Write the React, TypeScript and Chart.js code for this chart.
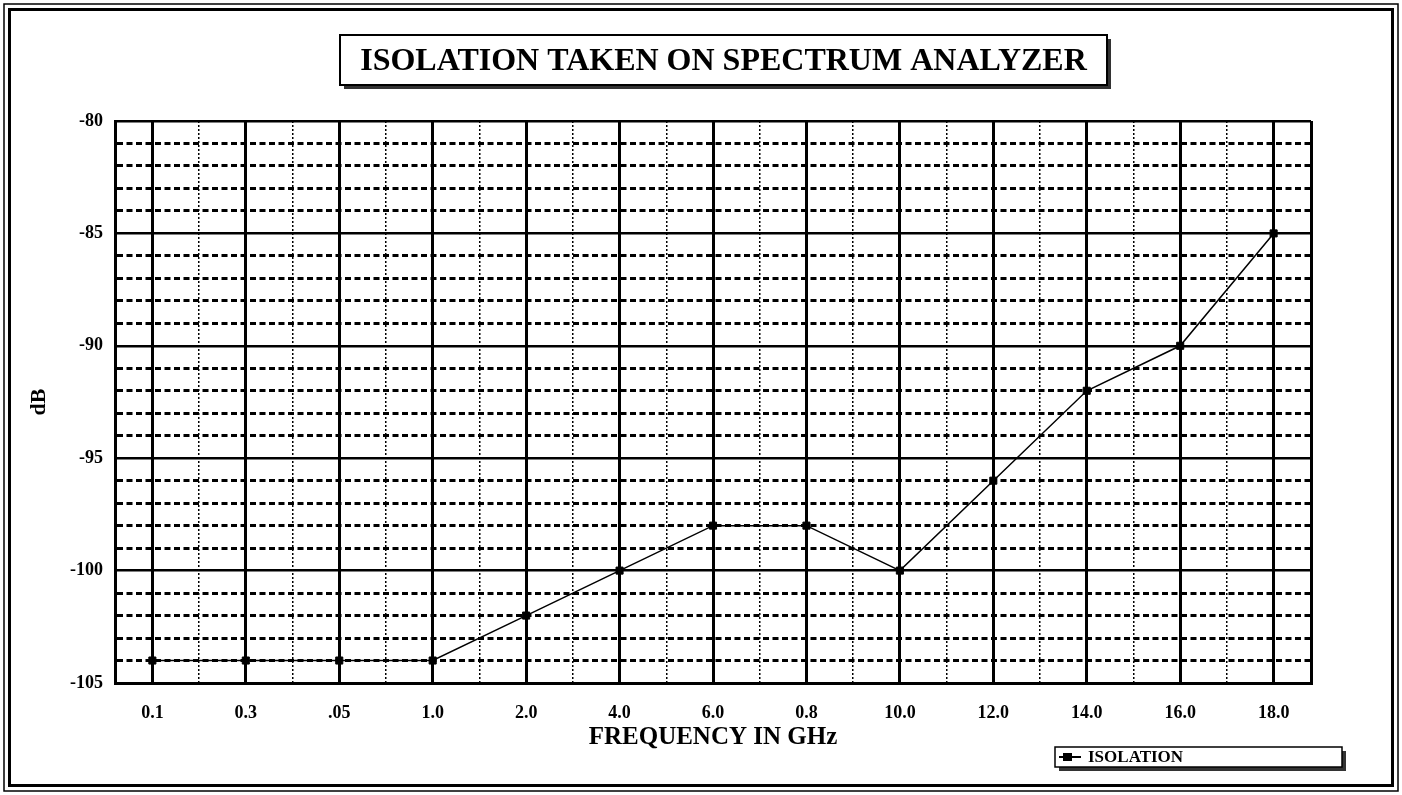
import React, { useEffect, useRef } from 'react';
import { Chart, registerables } from 'chart.js';

Chart.register(...registerables);

// ---- data ----
const categories = ['0.1', '0.3', '.05', '1.0', '2.0', '4.0', '6.0', '0.8', '10.0', '12.0', '14.0', '16.0', '18.0'];
const isolation = [-104, -104, -104, -104, -102, -100, -98, -98, -100, -96, -92, -90, -85];
const yMin = -105;
const yMax = -80;
const yMajorStep = 5;
const titleText = 'ISOLATION TAKEN ON SPECTRUM ANALYZER';
const xTitle = 'FREQUENCY IN GHz';
const yTitle = 'dB';
const seriesName = 'ISOLATION';

const W = 1402;
const H = 795;
const SERIF = '"Liberation Serif", "Times New Roman", serif';

const xEdge = 0.4;
const xMinV = -xEdge;
const xMaxV = categories.length - 1 + xEdge;

const isXMajor = (v: number) => Math.abs(v - Math.round(v)) < 1e-6 || v <= xMinV + 1e-6 || v >= xMaxV - 1e-6;
const isYMajor = (v: number) => Math.abs(v % yMajorStep) < 1e-6;

const framePlugin = {
  id: 'frame',
  beforeDraw(chart: any) {
    const ctx = chart.ctx;
    ctx.save();
    ctx.fillStyle = '#ffffff';
    ctx.fillRect(0, 0, W, H);
    ctx.strokeStyle = '#000';
    ctx.lineWidth = 1.5;
    ctx.strokeRect(4, 4, W - 8, H - 8);
    ctx.lineWidth = 3;
    ctx.strokeRect(9.5, 9.5, W - 19, H - 19);
    ctx.restore();
  },
};

const boxesPlugin = {
  id: 'boxes',
  afterDraw(chart: any) {
    const ctx = chart.ctx;
    ctx.save();
    // Title box
    const tx = 340, ty = 35, tw = 767, th = 50;
    ctx.fillStyle = '#333';
    ctx.fillRect(tx + 4, ty + 4, tw, th);
    ctx.fillStyle = '#fff';
    ctx.fillRect(tx, ty, tw, th);
    ctx.strokeStyle = '#000';
    ctx.lineWidth = 2;
    ctx.strokeRect(tx, ty, tw, th);
    ctx.fillStyle = '#000';
    ctx.font = `bold 32px ${SERIF}`;
    ctx.textAlign = 'center';
    ctx.textBaseline = 'middle';
    ctx.fillText(titleText, tx + tw / 2, ty + th / 2 + 2);

    // Legend box
    const ds = chart.data.datasets[0];
    const lx = 1055, ly = 747, lw = 287, lh = 20;
    ctx.fillStyle = '#333';
    ctx.fillRect(lx + 4, ly + 4, lw, lh);
    ctx.fillStyle = '#fff';
    ctx.fillRect(lx, ly, lw, lh);
    ctx.strokeStyle = '#000';
    ctx.lineWidth = 1.5;
    ctx.strokeRect(lx, ly, lw, lh);
    const my = ly + lh / 2;
    ctx.strokeStyle = ds.borderColor;
    ctx.lineWidth = 2;
    ctx.beginPath();
    ctx.moveTo(lx + 4, my);
    ctx.lineTo(lx + 26, my);
    ctx.stroke();
    ctx.fillStyle = ds.pointBackgroundColor;
    ctx.fillRect(lx + 8, my - 4, 9, 8);
    ctx.fillStyle = '#000';
    ctx.font = `bold 17px ${SERIF}`;
    ctx.textAlign = 'left';
    ctx.textBaseline = 'middle';
    ctx.fillText(seriesName, lx + 33, my + 1);
    ctx.restore();
  },
};

export default function App() {
  const canvasRef = useRef<HTMLCanvasElement | null>(null);

  useEffect(() => {
    if (!canvasRef.current) return;
    const data = isolation.map((v, i) => ({ x: i, y: v }));
    const chart = new Chart(canvasRef.current, {
      type: 'line',
      data: {
        datasets: [
          {
            label: seriesName,
            data,
            borderColor: '#000',
            borderWidth: 1.5,
            pointStyle: 'rect',
            pointRadius: 5,
            pointBackgroundColor: '#000',
            pointBorderColor: '#000',
            pointBorderWidth: 1,
            tension: 0,
            fill: false,
          },
        ],
      },
      options: {
        responsive: false,
        animation: false,
        events: [],
        layout: { padding: { top: 121, left: 0, right: W - 1311, bottom: 0 } },
        plugins: {
          legend: { display: false },
          title: { display: false },
          tooltip: { enabled: false },
        },
        scales: {
          x: {
            type: 'linear',
            min: xMinV,
            max: xMaxV,
            afterFit: (scale: any) => {
              scale.height = H - 683;
            },
            afterBuildTicks: (scale: any) => {
              const ticks: any[] = [{ value: xMinV }];
              for (let i = 0; i < categories.length; i++) {
                if (i > 0) ticks.push({ value: i - 0.5 });
                ticks.push({ value: i });
              }
              ticks.push({ value: xMaxV });
              scale.ticks = ticks;
            },
            ticks: {
              autoSkip: false,
              maxRotation: 0,
              padding: 20,
              color: '#000',
              font: { family: SERIF, size: 18, weight: 'bold' },
              callback: (value: any) => {
                const v = Number(value);
                if (Math.abs(v - Math.round(v)) < 1e-6) {
                  const i = Math.round(v);
                  return categories[i] ?? '';
                }
                return '';
              },
            },
            grid: {
              drawTicks: false,
              color: '#000',
              lineWidth: (ctx: any) => (ctx.tick && !isXMajor(ctx.tick.value) ? 1.5 : 3),
            },
            border: {
              display: true,
              color: '#000',
              width: 3,
              dash: (ctx: any) => (ctx.tick && !isXMajor(ctx.tick.value) ? [2, 2] : []),
            },
            title: {
              display: true,
              text: xTitle,
              color: '#000',
              font: { family: SERIF, size: 25, weight: 'bold' },
              padding: { top: 0, bottom: 42 },
            },
          },
          y: {
            type: 'linear',
            min: yMin,
            max: yMax,
            afterFit: (scale: any) => {
              scale.width = 115;
            },
            ticks: {
              stepSize: 1,
              autoSkip: false,
              padding: 12,
              color: '#000',
              font: { family: SERIF, size: 18, weight: 'bold' },
              callback: (value: any) => (isYMajor(Number(value)) ? String(value) : ''),
            },
            grid: {
              drawTicks: false,
              color: '#000',
              lineWidth: (ctx: any) => (ctx.tick && !isYMajor(ctx.tick.value) ? 3 : 2.5),
            },
            border: {
              display: true,
              color: '#000',
              width: 3,
              dash: (ctx: any) => (ctx.tick && !isYMajor(ctx.tick.value) ? [6, 3.5] : []),
            },
            title: {
              display: true,
              text: yTitle,
              color: '#000',
              font: { family: SERIF, size: 22, weight: 'bold' },
              padding: { top: 26, bottom: 0 },
            },
          },
        },
      },
      plugins: [framePlugin, boxesPlugin],
    } as any);
    return () => chart.destroy();
  }, []);

  return (
    <div style={{ position: 'absolute', left: 0, top: 0, width: W, height: H, background: '#fff' }}>
      <canvas ref={canvasRef} width={W} height={H} style={{ width: W, height: H, display: 'block' }} />
    </div>
  );
}
